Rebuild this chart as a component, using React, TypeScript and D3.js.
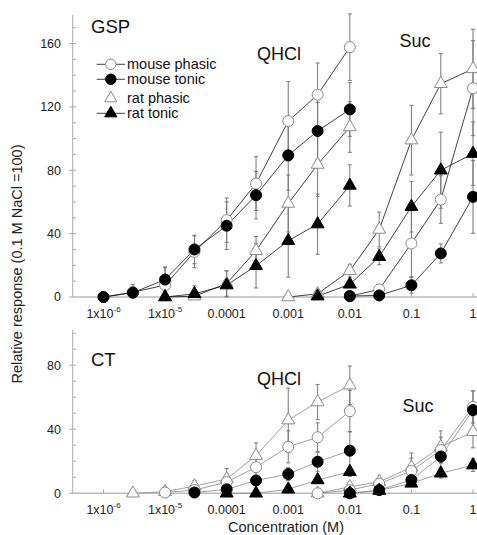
import React, { useEffect, useRef } from 'react';
import * as d3 from 'd3';

// concentrations (M)
const qhclMouseConc = [1e-6, 3e-6, 1e-5, 3e-5, 1e-4, 3e-4, 1e-3, 3e-3, 1e-2];
const qhclRatConc = [1e-5, 3e-5, 1e-4, 3e-4, 1e-3, 3e-3, 1e-2];
const sucRatPhasicConc = [1e-3, 3e-3, 1e-2, 3e-2, 0.1, 0.3, 1];
const sucRatTonicConc = [3e-3, 1e-2, 3e-2, 0.1, 0.3, 1];
const sucMouseConc = [1e-2, 3e-2, 0.1, 0.3, 1];

// GSP
const gspQhclMousePhasic = [0, 3, 7.5, 28.5, 48.5, 71.6, 111, 127.7, 157.7];
const gspQhclMousePhasicErr = [0, 5, 11, 10, 14, 17, 25, 20, 21];
const gspQhclMouseTonic = [0, 2.7, 11, 30, 45, 64.3, 89.4, 104.8, 118.4];
const gspQhclMouseTonicErr = [0, 4, 8, 9, 15, 15, 22, 18, 17];
const gspQhclRatPhasic = [0, 0.5, 8.5, 29.2, 59, 83.6, 107.3];
const gspQhclRatPhasicErr = [0, 1, 8, 9, 18, 20, 16];
const gspQhclRatTonic = [0, 2, 7.5, 19.7, 35.5, 46, 70.4];
const gspQhclRatTonicErr = [0, 5, 9, 14, 23, 19, 13];
const gspSucRatPhasic = [0, 2, 16.6, 42.6, 99, 134.6, 144];
const gspSucRatPhasicErr = [0, 1, 4, 11, 22, 19, 25];
const gspSucRatTonic = [0.5, 8, 25.4, 57, 80, 90.5];
const gspSucRatTonicErr = [0, 2, 5, 16, 24, 20];
const gspSucMousePhasic = [0.5, 4.8, 33.8, 61.5, 131.8];
const gspSucMousePhasicErr = [0, 3, 21, 15, 30];
const gspSucMouseTonic = [0.6, 1, 7.4, 27.5, 63.2];
const gspSucMouseTonicErr = [0, 1, 5, 6, 23];

// CT
const ctQhclRatPhasicConc = [3e-6, 1e-5, 3e-5, 1e-4, 3e-4, 1e-3, 3e-3, 1e-2];
const ctQhclRatPhasic = [0, 1, 4.5, 9, 23.5, 45.7, 57, 67.5];
const ctQhclRatPhasicErr = [0, 0, 3.5, 6.5, 8, 20, 11, 12];
const ctQhclMousePhasicConc = [1e-5, 3e-5, 1e-4, 3e-4, 1e-3, 3e-3, 1e-2];
const ctQhclMousePhasic = [0.5, 2, 7, 16.3, 29, 35, 51.3];
const ctQhclMousePhasicErr = [3.5, 2, 4, 6, 10, 9, 13];
const ctQhclMouseTonicConc = [3e-5, 1e-4, 3e-4, 1e-3, 3e-3, 1e-2];
const ctQhclMouseTonic = [0.5, 2.5, 8, 12, 19.7, 26.6];
const ctQhclMouseTonicErr = [0, 1, 3, 4, 6, 12];
const ctQhclRatTonicConc = [1e-4, 3e-4, 1e-3, 3e-3, 1e-2];
const ctQhclRatTonic = [0, 0, 2.5, 8.3, 13.5];
const ctQhclRatTonicErr = [0, 0, 1, 2, 3];
const ctSucPhasicConc = [3e-3, 1e-2, 3e-2, 0.1, 0.3, 1];
const ctSucRatPhasic = [0, 4, 7.2, 16.2, 29, 38.4];
const ctSucRatPhasicErr = [0, 1, 2, 9, 10, 10];
const ctSucMousePhasic = [0, 2, 6, 14, 27, 54];
const ctSucMousePhasicErr = [0, 1, 2, 8, 8, 10];
const ctSucTonicConc = [1e-2, 3e-2, 0.1, 0.3, 1];
const ctSucMouseTonic = [0, 2, 8.3, 23, 52];
const ctSucMouseTonicErr = [0, 1, 3, 7, 12];
const ctSucRatTonic = [0, 1.7, 6.2, 12.5, 17.6];
const ctSucRatTonicErr = [0, 1, 2, 3, 4];

const xTicks = [1e-6, 1e-5, 1e-4, 1e-3, 1e-2, 0.1, 1];
const xTickLabels = ['1x10|-6', '1x10|-5', '0.0001', '0.001', '0.01', '0.1', '1'];
const gspYTicks = [0, 40, 80, 120, 160];
const ctYTicks = [0, 40, 80];

const legendItems = [
  { label: 'mouse phasic', kind: 'openCircle', line: true },
  { label: 'mouse tonic', kind: 'filledCircle', line: true },
  { label: 'rat phasic', kind: 'openTriangle', line: false },
  { label: 'rat tonic', kind: 'filledTriangle', line: true },
];

const FONT = '"Liberation Sans", Arial, Helvetica, sans-serif';

const App = () => {
  const ref = useRef(null);

  useEffect(() => {
    const svg = d3.select(ref.current);
    svg.selectAll('*').remove();

    const x = d3.scaleLog().domain([Math.pow(10, -6.5), 1]).range([72.7, 473]);

    const panels = [
      {
        title: 'GSP', titleX: 91, titleY: 33,
        y: d3.scaleLinear().domain([0, 178]).range([297, 15]),
        yTicks: gspYTicks, lineColor: '#111',
        labels: [{ t: 'QHCl', x: 279, y: 59.5 }, { t: 'Suc', x: 415, y: 46.5 }],
        series: [
          { c: qhclMouseConc, v: gspQhclMousePhasic, e: gspQhclMousePhasicErr, kind: 'openCircle' },
          { c: qhclMouseConc, v: gspQhclMouseTonic, e: gspQhclMouseTonicErr, kind: 'filledCircle' },
          { c: qhclRatConc, v: gspQhclRatPhasic, e: gspQhclRatPhasicErr, kind: 'openTriangle' },
          { c: qhclRatConc, v: gspQhclRatTonic, e: gspQhclRatTonicErr, kind: 'filledTriangle' },
          { c: sucRatPhasicConc, v: gspSucRatPhasic, e: gspSucRatPhasicErr, kind: 'openTriangle' },
          { c: sucRatTonicConc, v: gspSucRatTonic, e: gspSucRatTonicErr, kind: 'filledTriangle' },
          { c: sucMouseConc, v: gspSucMousePhasic, e: gspSucMousePhasicErr, kind: 'openCircle' },
          { c: sucMouseConc, v: gspSucMouseTonic, e: gspSucMouseTonicErr, kind: 'filledCircle' },
        ],
      },
      {
        title: 'CT', titleX: 91, titleY: 366,
        y: d3.scaleLinear().domain([0, 102]).range([493.3, 330]),
        yTicks: ctYTicks, lineColor: '#888',
        labels: [{ t: 'QHCl', x: 279, y: 385 }, { t: 'Suc', x: 418, y: 411.5 }],
        series: [
          { c: ctQhclRatPhasicConc, v: ctQhclRatPhasic, e: ctQhclRatPhasicErr, kind: 'openTriangle' },
          { c: ctQhclMousePhasicConc, v: ctQhclMousePhasic, e: ctQhclMousePhasicErr, kind: 'openCircle' },
          { c: ctQhclMouseTonicConc, v: ctQhclMouseTonic, e: ctQhclMouseTonicErr, kind: 'filledCircle' },
          { c: ctQhclRatTonicConc, v: ctQhclRatTonic, e: ctQhclRatTonicErr, kind: 'filledTriangle' },
          { c: ctSucPhasicConc, v: ctSucRatPhasic, e: ctSucRatPhasicErr, kind: 'openTriangle' },
          { c: ctSucPhasicConc, v: ctSucMousePhasic, e: ctSucMousePhasicErr, kind: 'openCircle' },
          { c: ctSucTonicConc, v: ctSucMouseTonic, e: ctSucMouseTonicErr, kind: 'filledCircle' },
          { c: ctSucTonicConc, v: ctSucRatTonic, e: ctSucRatTonicErr, kind: 'filledTriangle' },
        ],
      },
    ];

    const drawMarker = (g, kind, cx, cy, scale = 1) => {
      const open = kind.startsWith('open');
      const fill = open ? '#fff' : '#000';
      const stroke = open ? '#8a8a8a' : '#000';
      if (kind.endsWith('Circle')) {
        g.append('circle').attr('cx', cx).attr('cy', cy).attr('r', 5.5 * scale)
          .attr('fill', fill).attr('stroke', stroke).attr('stroke-width', 1);
      } else {
        g.append('path')
          .attr('d', d3.symbol().type(d3.symbolTriangle).size(72 * scale * scale)())
          .attr('transform', `translate(${cx},${cy})`)
          .attr('fill', fill).attr('stroke', stroke).attr('stroke-width', 1);
      }
    };

    panels.forEach((p) => {
      const g = svg.append('g');
      const [y0, yTop] = p.y.range();

      // y axis
      g.append('line').attr('x1', 72.7).attr('x2', 72.7).attr('y1', yTop).attr('y2', y0)
        .attr('stroke', '#aaa').attr('stroke-width', 1);
      d3.range(10, p.y.domain()[1], 10).forEach((t) => {
        g.append('line').attr('x1', 72.7).attr('x2', 76).attr('y1', p.y(t)).attr('y2', p.y(t))
          .attr('stroke', '#aaa');
      });
      p.yTicks.forEach((t) => {
        g.append('line').attr('x1', 69).attr('x2', 72.7).attr('y1', p.y(t)).attr('y2', p.y(t))
          .attr('stroke', '#aaa');
        g.append('text').attr('x', 61).attr('y', p.y(t)).attr('dy', '0.35em')
          .attr('text-anchor', 'end').attr('font-family', FONT).attr('font-size', 12.5)
          .attr('fill', '#222').text(t);
      });

      // x axis
      g.append('line').attr('x1', 72.7).attr('x2', 477).attr('y1', y0).attr('y2', y0)
        .attr('stroke', '#bbb').attr('stroke-width', 1.6);
      xTicks.forEach((t, i) => {
        g.append('line').attr('x1', x(t)).attr('x2', x(t)).attr('y1', y0).attr('y2', y0 - 4)
          .attr('stroke', '#aaa');
        const [base, sup] = xTickLabels[i].split('|');
        const txt = g.append('text').attr('x', x(t)).attr('y', y0 + 21)
          .attr('text-anchor', 'middle').attr('font-family', FONT).attr('font-size', 12.5)
          .attr('fill', '#222');
        txt.append('tspan').text(base);
        if (sup) txt.append('tspan').attr('dy', -6).attr('font-size', 8).text(sup);
      });

      // titles
      g.append('text').attr('x', p.titleX).attr('y', p.titleY).attr('font-family', FONT)
        .attr('font-size', 18.5).attr('fill', '#111').text(p.title);
      p.labels.forEach((l) => {
        g.append('text').attr('x', l.x).attr('y', l.y).attr('text-anchor', 'middle')
          .attr('font-family', FONT).attr('font-size', 18).attr('fill', '#111').text(l.t);
      });

      // error bars
      p.series.forEach((s) => {
        s.c.forEach((c, i) => {
          const err = s.e[i];
          if (!err) return;
          const cx = x(c);
          const hi = p.y(s.v[i] + err);
          const lo = p.y(Math.max(0, s.v[i] - err));
          g.append('line').attr('x1', cx).attr('x2', cx).attr('y1', hi).attr('y2', lo)
            .attr('stroke', '#777').attr('stroke-width', 1);
          [hi, lo].forEach((yy) => {
            g.append('line').attr('x1', cx - 2).attr('x2', cx + 2).attr('y1', yy).attr('y2', yy)
              .attr('stroke', '#777').attr('stroke-width', 1);
          });
        });
      });

      // lines
      const line = d3.line().x((d) => x(d[0])).y((d) => p.y(d[1]));
      p.series.forEach((s) => {
        g.append('path').datum(s.c.map((c, i) => [c, s.v[i]]))
          .attr('fill', 'none').attr('stroke', p.lineColor).attr('stroke-width', 0.8)
          .attr('d', line);
      });

      // markers
      p.series.forEach((s) => {
        s.c.forEach((c, i) => drawMarker(g, s.kind, x(c), p.y(s.v[i])));
      });
    });

    // legend
    const lg = svg.append('g');
    legendItems.forEach((it, i) => {
      const yy = [64.3, 79.3, 98.3, 113.3][i];
      if (it.line) {
        lg.append('line').attr('x1', 96.7).attr('x2', 125).attr('y1', yy).attr('y2', yy)
          .attr('stroke', '#111').attr('stroke-width', 0.8);
      }
      drawMarker(lg, it.kind, 110.8, yy, 0.95);
      lg.append('text').attr('x', 127).attr('y', yy).attr('dy', '0.35em')
        .attr('font-family', FONT).attr('font-size', 14.5).attr('fill', '#111').text(it.label);
    });

    // axis titles
    svg.append('text').attr('transform', 'translate(22,264) rotate(-90)')
      .attr('text-anchor', 'middle').attr('font-family', FONT).attr('font-size', 14.5)
      .attr('fill', '#222').text('Relative response (0.1 M NaCl =100)');
    svg.append('text').attr('x', 286).attr('y', 532).attr('text-anchor', 'middle')
      .attr('font-family', FONT).attr('font-size', 14.5).attr('fill', '#222')
      .text('Concentration (M)');
  }, []);

  return (
    <svg
      ref={ref}
      width={477}
      height={535}
      style={{ position: 'absolute', left: 0, top: 0, background: '#fff' }}
    />
  );
};

export default App;
